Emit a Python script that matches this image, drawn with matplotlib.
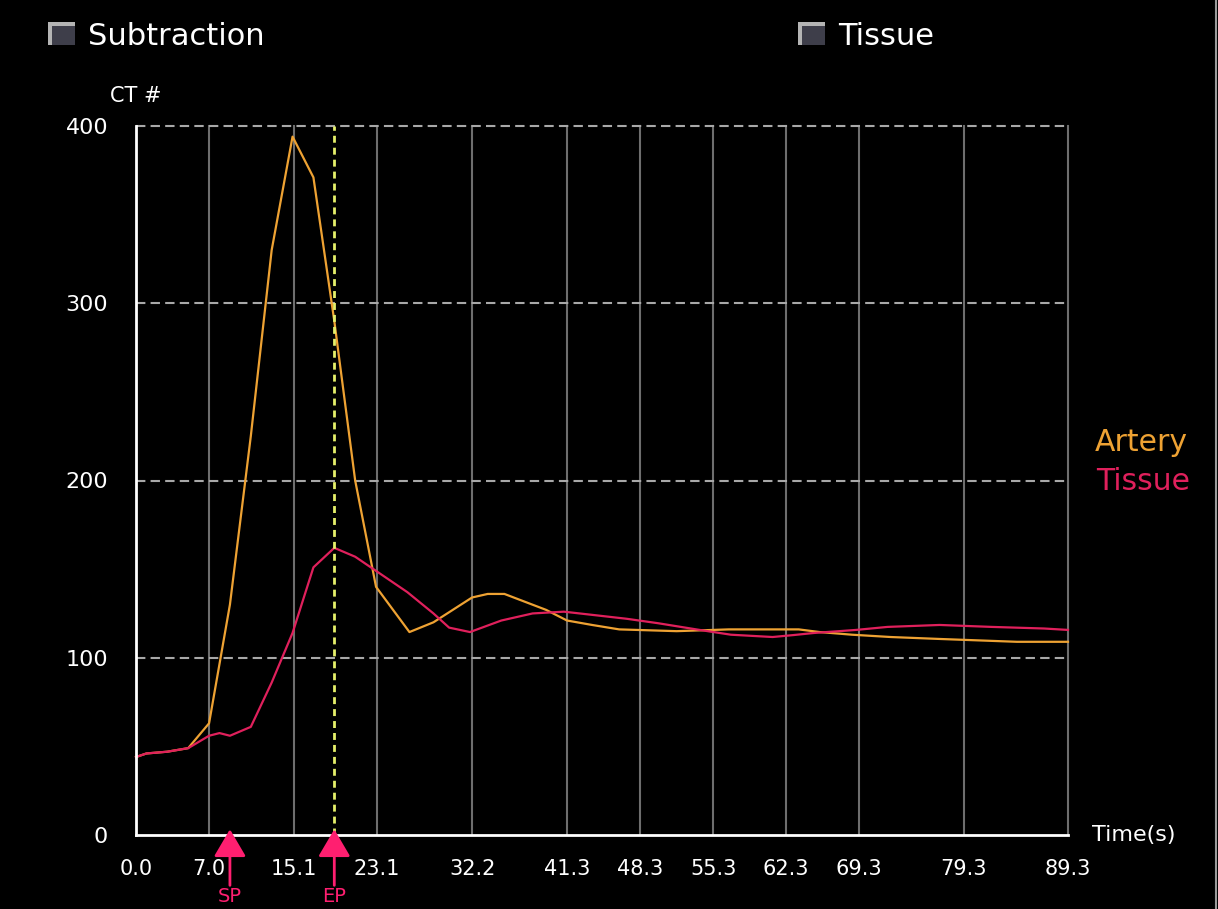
import matplotlib.pyplot as plt
import matplotlib.transforms as mtransforms
from matplotlib.patches import Rectangle
from matplotlib.lines import Line2D

# time-density curves (CT number vs. time in seconds)
artery_t = [0, 1, 3, 5, 7, 9, 11, 13, 15, 17, 19, 21, 23, 26.2, 28.5, 32.2,
            33.7, 35.3, 39.3, 41.3, 43.7, 46.3, 51.8, 56.8, 63.5, 65.5, 68.6,
            72.3, 77, 84.4, 89.3]
artery_v = [44, 46, 47, 49, 63, 130, 225, 330, 394, 371, 290, 200, 140, 114.5,
            120, 134, 136, 136, 127, 121, 118.5, 116, 115, 116, 116, 114.5, 113,
            111.7, 110.6, 109, 109]

tissue_t = [0, 1, 3, 5, 7, 8, 9, 11, 13, 15, 17, 19, 21, 23, 26, 28.5, 30, 32,
            35, 38, 41, 44, 47, 50, 54, 57, 61, 63, 65, 69, 72, 77, 82, 87, 89.3]
tissue_v = [44, 46, 47, 49, 56, 57.5, 56, 61, 86, 114, 151, 162, 157, 149, 137,
            125, 117, 114.5, 121, 125, 126, 124, 122, 119.5, 115.7, 113, 111.7,
            112.8, 114, 115.7, 117.4, 118.5, 117.4, 116.5, 115.7]

time_ticks = [0.0, 7.0, 15.1, 23.1, 32.2, 41.3, 48.3, 55.3, 62.3, 69.3, 79.3, 89.3]
ct_ticks = [0, 100, 200, 300, 400]

sp_time = 9.0
ep_time = 19.0

ORANGE = '#eea233'
CRIMSON = '#e0205c'
PINK = '#ff1f70'
YELLOW = '#e6f06a'

W, H = 1218, 909


def fx(px):
    return px / W


def fy(py):
    return 1 - py / H


fig = plt.figure(figsize=(W / 100, H / 100), dpi=100, facecolor='black')
ax = fig.add_axes([fx(136), fy(835), fx(1068) - fx(136), fy(126) - fy(835)])
ax.set_facecolor('black')
ax.set_xlim(0, 89.3)
ax.set_ylim(0, 400)

# grid
for t in time_ticks[1:]:
    ax.axvline(t, color='#6e6e6e', lw=1.5, zorder=1, clip_on=False)
for v in ct_ticks[1:]:
    ax.axhline(v, color='#a8a8a8', lw=1.5, dashes=(4.5, 2.5), zorder=1, clip_on=False)

for side in ['top', 'right']:
    ax.spines[side].set_visible(False)
for side in ['left', 'bottom']:
    ax.spines[side].set_color('white')
    ax.spines[side].set_linewidth(2)
    ax.spines[side].set_zorder(4)

ax.set_xticks(time_ticks)
ax.set_xticklabels(['%.1f' % t for t in time_ticks])
ax.set_yticks(ct_ticks)
ax.tick_params(length=0, colors='white', labelsize=15)
ax.tick_params(axis='x', pad=17)
ax.tick_params(axis='y', pad=20, labelsize=16)

ax.plot(artery_t, artery_v, color=ORANGE, lw=1.6, zorder=3, clip_on=False)
ax.plot(tissue_t, tissue_v, color=CRIMSON, lw=1.6, zorder=3, clip_on=False)

ax.axvline(ep_time, color=YELLOW, lw=2, dashes=(2.5, 1.8), zorder=5, clip_on=False)

# start / end point markers under the time axis
trans = mtransforms.blended_transform_factory(ax.transData, ax.transAxes)
for t, name in [(sp_time, 'SP'), (ep_time, 'EP')]:
    ax.annotate('', xy=(t, 0.008), xycoords=trans, xytext=(t, -0.071), textcoords=trans,
                arrowprops=dict(arrowstyle='-|>,head_length=0.85,head_width=0.5',
                                mutation_scale=20, color=PINK, lw=2,
                                shrinkA=0, shrinkB=0),
                annotation_clip=False, zorder=6)
    ax.text(t, -0.073, name, transform=trans, ha='center', va='top',
            color=PINK, fontsize=14, clip_on=False)

fig.text(fx(136), fy(96), 'CT #', color='white', fontsize=15, ha='center', va='center')
fig.text(fx(1092), fy(835), 'Time(s)', color='white', fontsize=16, ha='left', va='center')

fig.text(fx(1095), fy(451), 'Artery', color=ORANGE, fontsize=21.5, ha='left', va='baseline')
fig.text(fx(1096), fy(490), 'Tissue', color=CRIMSON, fontsize=21.5, ha='left', va='baseline')


def checkbox(x0, y0, label):
    fig.add_artist(Rectangle((fx(x0), fy(y0 + 23)), 27 / W, 23 / H,
                             transform=fig.transFigure, facecolor='#b4b4b4',
                             edgecolor='none'))
    fig.add_artist(Rectangle((fx(x0 + 4), fy(y0 + 23)), 23 / W, 19 / H,
                             transform=fig.transFigure, facecolor='#3e3e4a',
                             edgecolor='none'))
    fig.text(fx(x0 + 40), fy(y0 + 23), label, color='white', fontsize=22,
             ha='left', va='baseline')


checkbox(48, 22, 'Subtraction')
checkbox(798, 22, 'Tissue')

fig.add_artist(Line2D([fx(1215.5)] * 2, [0, 1], transform=fig.transFigure,
                      color='#9a9a9a', lw=1.5))

fig.savefig('out.png', dpi=100, facecolor='black')
